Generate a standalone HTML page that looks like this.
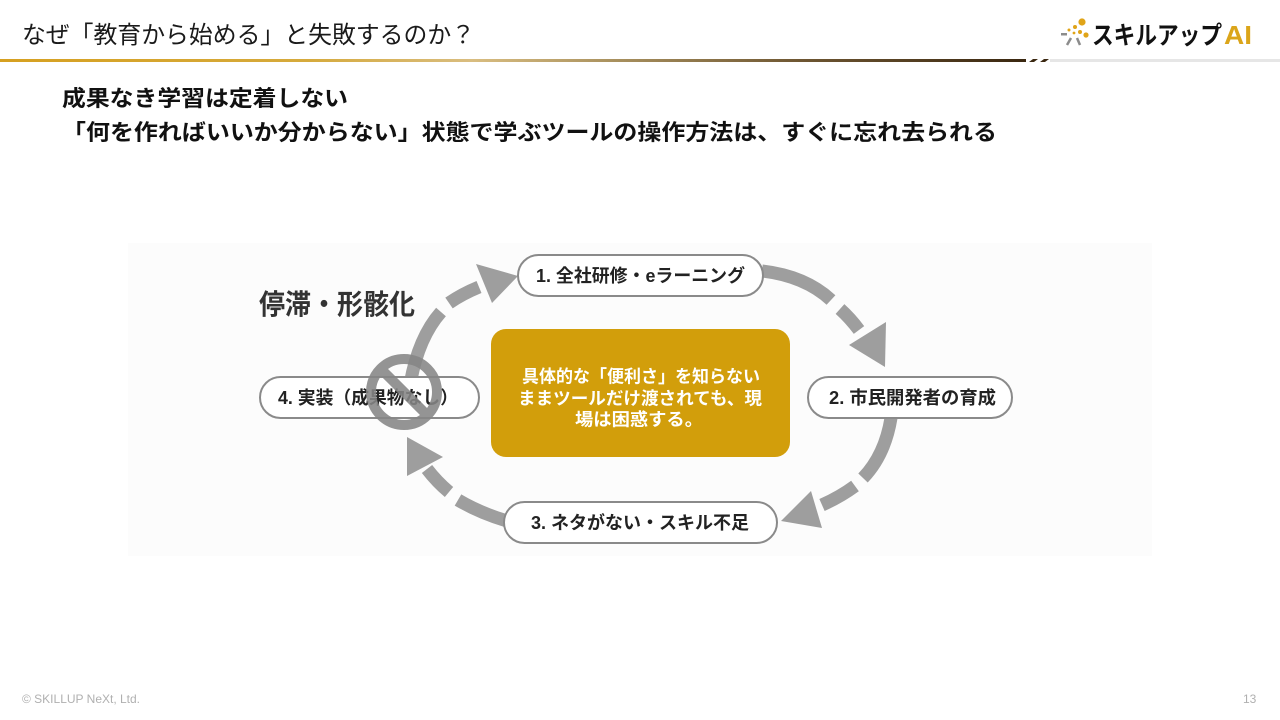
<!DOCTYPE html>
<html>
<head>
<meta charset="utf-8">
<style>
  html,body{margin:0;padding:0;background:#fff;}
  body{width:1280px;height:720px;overflow:hidden;position:relative;}
  svg{position:absolute;left:0;top:0;}
</style>
</head>
<body>
<svg width="1280" height="720" viewBox="0 0 1280 720" xmlns="http://www.w3.org/2000/svg">
  <defs>
    <linearGradient id="hl" x1="0" y1="0" x2="1" y2="0">
      <stop offset="0" stop-color="#d6a020"/>
      <stop offset="0.3" stop-color="#d6aa3c"/>
      <stop offset="0.46" stop-color="#d9bd80"/>
      <stop offset="0.6" stop-color="#a8905e"/>
      <stop offset="0.78" stop-color="#6e5632"/>
      <stop offset="1" stop-color="#3a2710"/>
    </linearGradient>
  </defs>

  <!-- Title -->
  <text x="22" y="43" font-size="24" fill="#1a1a1a" textLength="453" lengthAdjust="spacingAndGlyphs" font-family="Liberation Sans, Noto Sans CJK JP, sans-serif">なぜ「教育から始める」と失敗するのか？</text>

  <!-- Logo -->
  <g>
    <circle cx="1082" cy="22" r="3.6" fill="#e0a418"/>
    <circle cx="1075" cy="27" r="2" fill="#e0a418"/>
    <circle cx="1069" cy="30" r="1.5" fill="#e0a418"/>
    <circle cx="1080" cy="32" r="2" fill="#e0a418"/>
    <circle cx="1086" cy="35" r="2.6" fill="#e0a418"/>
    <circle cx="1074" cy="33" r="1.4" fill="#e0a418"/>
    <rect x="1061" y="33" width="6" height="2.5" fill="#8c8c8c"/>
    <path d="M1071 38 L1067 45" stroke="#8c8c8c" stroke-width="2.5"/>
    <path d="M1077 38 L1080 45" stroke="#8c8c8c" stroke-width="2.5"/>
    <text x="1092" y="44" font-size="25" font-weight="bold" fill="#111" textLength="130" lengthAdjust="spacingAndGlyphs" font-family="Liberation Sans, Noto Sans CJK JP, sans-serif">スキルアップ</text>
    <text x="1224" y="44" font-size="26" font-weight="bold" fill="#dba51a" textLength="28" lengthAdjust="spacingAndGlyphs" font-family="Liberation Sans, sans-serif">AI</text>
  </g>

  <!-- Header line -->
  <rect x="0" y="59" width="1026" height="3" fill="url(#hl)"/>
  <polygon points="1029,62 1033,59 1038,59 1034,62" fill="#3a2710"/>
  <polygon points="1040,62 1044,59 1049,59 1045,62" fill="#3a2710"/>
  <rect x="1050" y="59" width="230" height="3" fill="#e6e6e6"/>

  <!-- Subheadings -->
  <text x="62" y="106" font-size="22" font-weight="bold" fill="#111" textLength="286" lengthAdjust="spacingAndGlyphs" font-family="Liberation Sans, Noto Sans CJK JP, sans-serif">成果なき学習は定着しない</text>
  <text x="62" y="140" font-size="22" font-weight="bold" fill="#111" textLength="935" lengthAdjust="spacingAndGlyphs" font-family="Liberation Sans, Noto Sans CJK JP, sans-serif">「何を作ればいいか分からない」状態で学ぶツールの操作方法は、すぐに忘れ去られる</text>

  <!-- Diagram background -->
  <rect x="128" y="243" width="1024" height="313" fill="#fcfcfc"/>

  <!-- Arcs -->
  <g fill="none" stroke="#9e9e9e" stroke-width="13">
    <path d="M 410 385 Q 418 338 441 312"/>
    <path d="M 449 303 Q 462 294 479 287"/>
    <path d="M 762 271 Q 805 276 831 300"/>
    <path d="M 840 309 Q 850 318 859 330"/>
    <path d="M 891 418 Q 885 455 863 478"/>
    <path d="M 855 486 Q 840 497 822 505"/>
    <path d="M 507 521 Q 480 513 458 500"/>
    <path d="M 449 492 Q 437 482 427 469"/>
  </g>
  <g fill="#9e9e9e">
    <polygon points="476,264 518,276 492,303"/>
    <polygon points="849,345 886,322 885,367"/>
    <polygon points="811,491 822,528 781,521"/>
    <polygon points="407,437 443,457 407,476"/>
  </g>

  <!-- Pills -->
  <g fill="#fff" stroke="#8a8a8a" stroke-width="2">
    <rect x="518" y="255" width="245" height="41" rx="20.5"/>
    <rect x="808" y="377" width="204" height="41" rx="20.5"/>
    <rect x="504" y="502" width="273" height="41" rx="20.5"/>
    <rect x="260" y="377" width="219" height="41" rx="20.5"/>
  </g>
  <g font-size="18" font-weight="bold" fill="#222" text-anchor="middle" font-family="Liberation Sans, Noto Sans CJK JP, sans-serif">
    <text x="640.5" y="282" textLength="209" lengthAdjust="spacingAndGlyphs">1. 全社研修・eラーニング</text>
    <text x="912.5" y="404" textLength="167" lengthAdjust="spacingAndGlyphs">2. 市民開発者の育成</text>
    <text x="640" y="529" textLength="218" lengthAdjust="spacingAndGlyphs">3. ネタがない・スキル不足</text>
    <text x="368" y="404" textLength="180" lengthAdjust="spacingAndGlyphs">4. 実装（成果物なし）</text>
  </g>

  <!-- Stagnation label -->
  <text x="259" y="314" font-size="28" font-weight="bold" fill="#333" textLength="156" lengthAdjust="spacingAndGlyphs" font-family="Liberation Sans, Noto Sans CJK JP, sans-serif">停滞・形骸化</text>

  <!-- No sign -->
  <g stroke="#868686" stroke-width="10" fill="none" opacity="0.88">
    <circle cx="404" cy="392" r="33"/>
    <line x1="381" y1="369" x2="427" y2="415"/>
  </g>

  <!-- Gold box -->
  <rect x="491" y="329" width="299" height="128" rx="15" fill="#d29e0b"/>
  <g font-size="17.5" font-weight="bold" fill="#fff" text-anchor="middle" font-family="Liberation Sans, Noto Sans CJK JP, sans-serif">
    <text x="641" y="382.5" textLength="238" lengthAdjust="spacingAndGlyphs">具体的な「便利さ」を知らない</text>
    <text x="640" y="404.5" textLength="244" lengthAdjust="spacingAndGlyphs">ままツールだけ渡されても、現</text>
    <text x="639" y="425.5" textLength="128" lengthAdjust="spacingAndGlyphs">場は困惑する。</text>
  </g>

  <!-- Footer -->
  <text x="22" y="703" font-size="12" fill="#b0b0b0" font-family="Liberation Sans, sans-serif">© SKILLUP NeXt, Ltd.</text>
  <text x="1243" y="703" font-size="12" fill="#b0b0b0" font-family="Liberation Sans, sans-serif">13</text>
</svg>
</body>
</html>
